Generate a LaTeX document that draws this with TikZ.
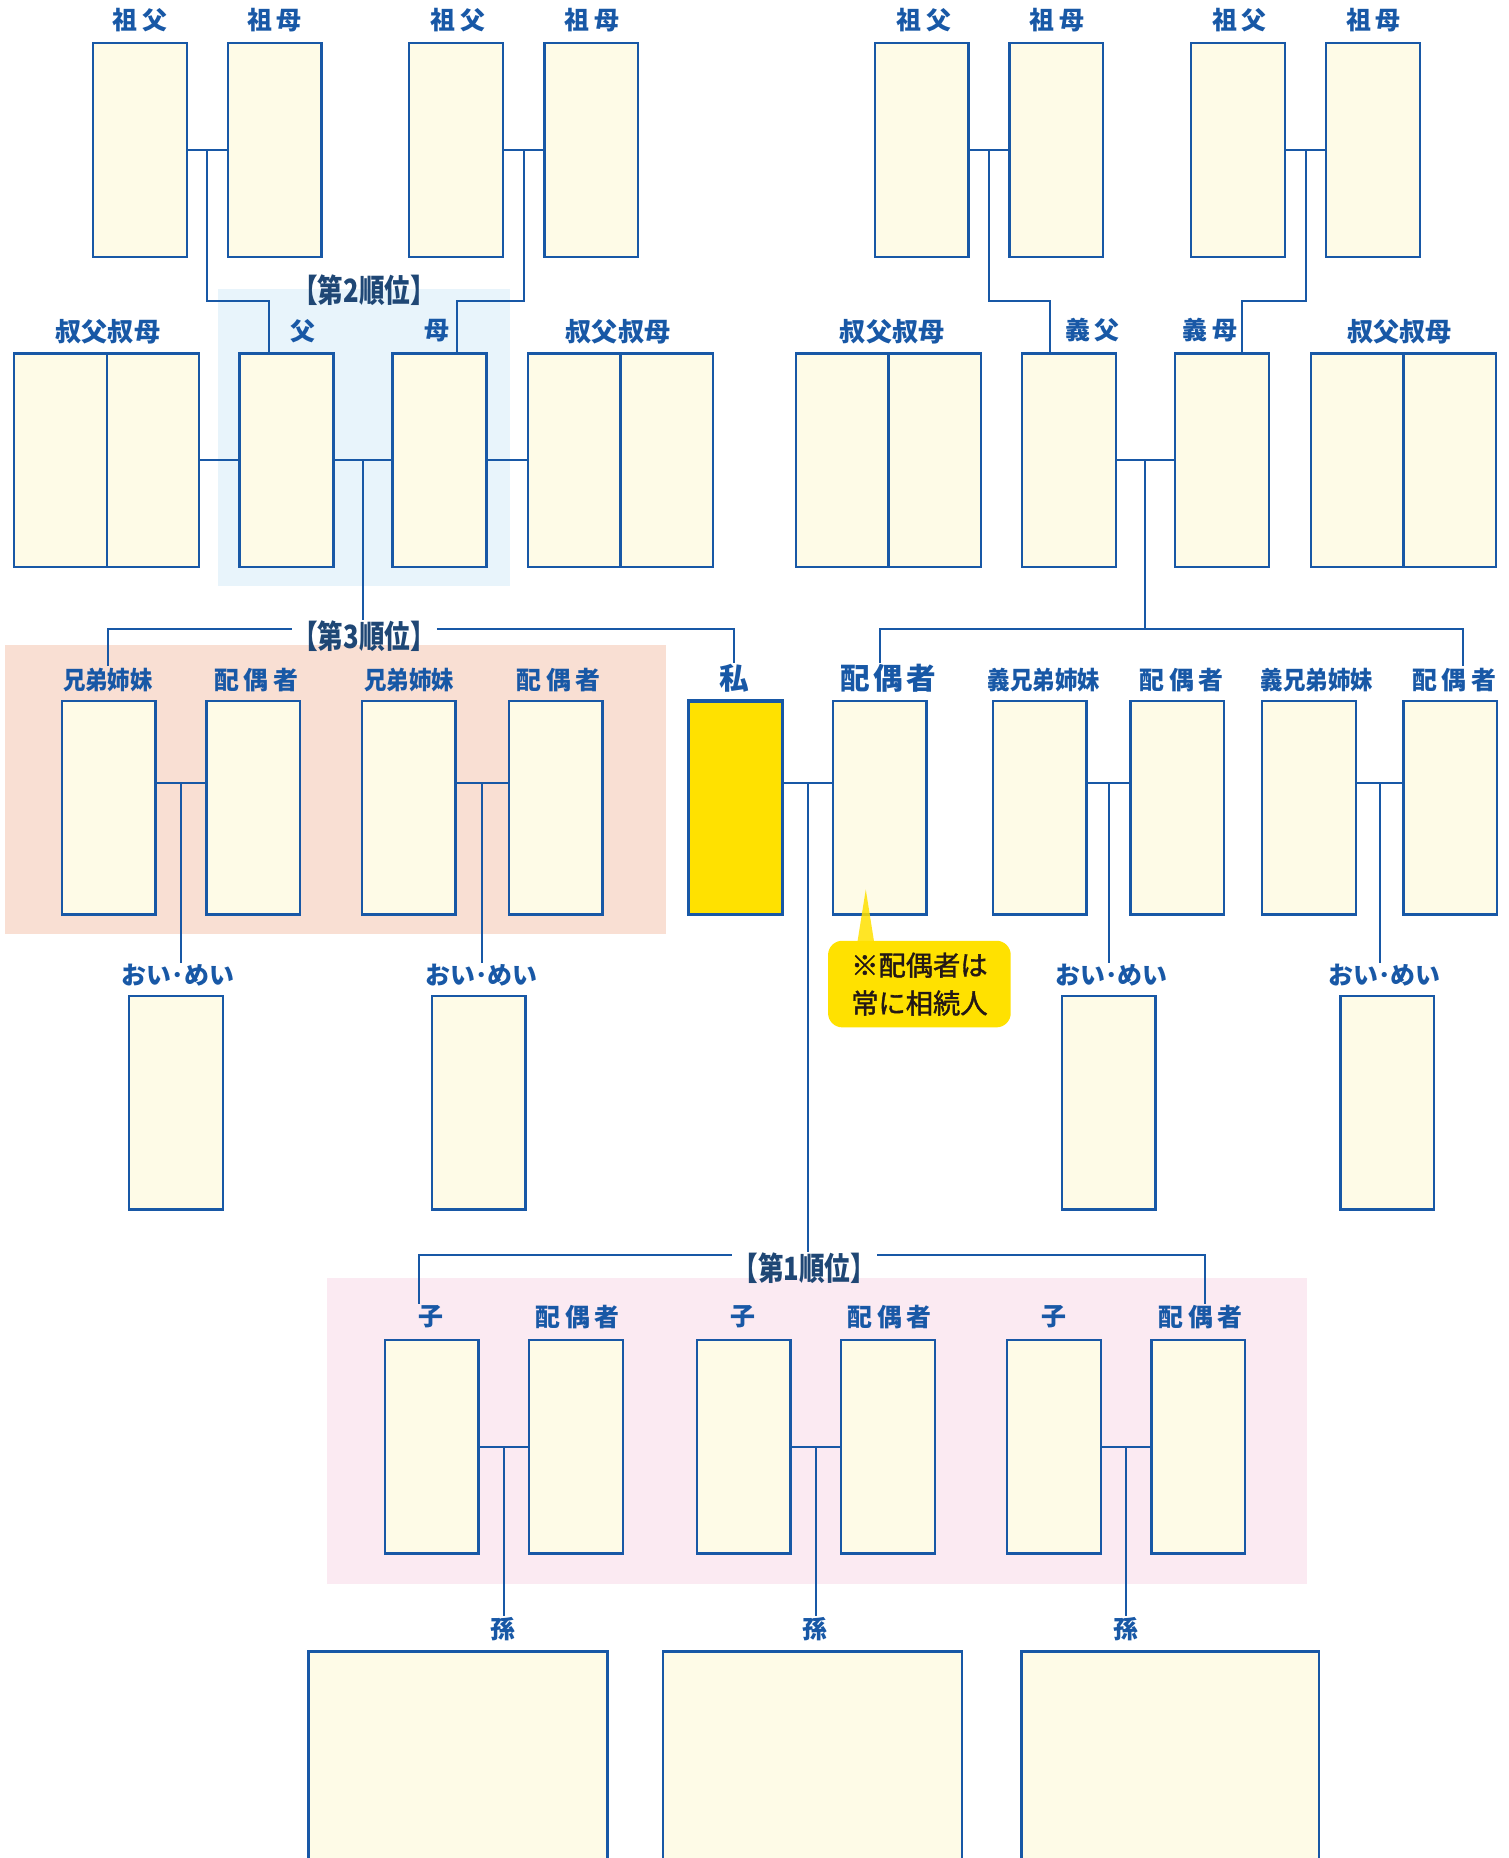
\documentclass[tikz,border=0pt]{standalone}
\usepackage{fontspec}
\setmainfont{Noto Sans CJK JP}
\newfontfamily\jl{Noto Sans CJK JP}
\newfontfamily\jw[LetterSpace=18]{Noto Sans CJK JP}
\newfontfamily\jn[FakeStretch=0.9]{Noto Sans CJK JP}
\newfontfamily\jbw[LetterSpace=12]{Noto Sans CJK JP}
\newfontfamily\jr[FakeStretch=0.8]{Noto Sans CJK JP}
\newfontfamily\jk[FakeBold=1.5]{Noto Sans CJK JP}
\usetikzlibrary{calc}
\definecolor{lb}{HTML}{1858A6}
\definecolor{cream}{HTML}{FEFBE7}
\definecolor{bgblue}{HTML}{E8F4FB}
\definecolor{bgsalmon}{HTML}{F9DFD3}
\definecolor{bgpink}{HTML}{FBEAF2}
\definecolor{ylw}{HTML}{FFE100}
\definecolor{navy}{HTML}{1F4775}
\definecolor{ink}{HTML}{231815}
\begin{document}
\begin{tikzpicture}[x=1pt,y=-1pt,
 person/.style={draw=lb,fill=cream,line width=2pt,minimum width=79pt,minimum height=180pt,inner sep=0pt},
 half/.style={person,minimum width=78pt},
 lab/.style={text=lb,font=\jl\bfseries\fontsize{21}{21}\selectfont,inner sep=1pt},
 labq/.style={text=lb,font=\jl\bfseries\fontsize{22}{22}\selectfont,inner sep=1pt},
 labw/.style={text=lb,font=\jw\bfseries\fontsize{21}{21}\selectfont,inner sep=1pt},
 labn/.style={text=lb,font=\jn\bfseries\fontsize{21}{21}\selectfont,inner sep=1pt},
 labb/.style={text=lb,font=\jbw\bfseries\fontsize{25}{25}\selectfont,inner sep=1pt},
 rank/.style={text=navy,font=\jr\bfseries\fontsize{27}{27}\selectfont,inner sep=0.5pt},
 link/.style={draw=lb,line width=1.7pt},
]
\clip (0,0) rectangle (1272,1566.2);
% backgrounds
\fill[bgblue] (184,244) rectangle (430,494);
\fill[bgsalmon] (4,544) rectangle (561,787);
\fill[bgpink] (276,1077) rectangle (1102,1335);

% row 1 grandparents
\node[person] (gf1) at (118,126.5) {};
\node[person] (gm1) at (231.5,126.5) {};
\node[person] (gf2) at (384.5,126.5) {};
\node[person] (gm2) at (498.5,126.5) {};
\node[person] (gf3) at (777,126.5) {};
\node[person] (gm3) at (890.5,126.5) {};
\node[person] (gf4) at (1043.5,126.5) {};
\node[person] (gm4) at (1157.5,126.5) {};
\node[labw] (lgf1) at (118,17) {祖父};
\node[labw] (lgm1) at (231.5,17) {祖母};
\node[labw] (lgf2) at (386,17) {祖父};
\node[labw] (lgm2) at (499,17) {祖母};
\node[labw] (lgf3) at (779,17) {祖父};
\node[labw] (lgm3) at (891,17) {祖母};
\node[labw] (lgf4) at (1045,17) {祖父};
\node[labw] (lgm4) at (1158,17) {祖母};

% row 2
\node[half] (ul1a) at (51,388) {};
\node[half] (ul1b) at (129,388) {};
\node[person] (fa) at (241.5,388) {};
\node[person] (mo) at (370.5,388) {};
\node[half] (ur1a) at (484,388) {};
\node[half] (ur1b) at (562,388) {};
\node[half] (ul2a) at (710,388) {};
\node[half] (ul2b) at (788,388) {};
\node[person] (ifa) at (901,388) {};
\node[person] (imo) at (1030,388) {};
\node[half] (ur2a) at (1144,388) {};
\node[half] (ur2b) at (1222,388) {};
\node[labq] (lul1) at (91,280) {叔父叔母};
\node[labq] (lur1) at (521,280) {叔父叔母};
\node[labq] (lul2) at (752,280) {叔父叔母};
\node[labq] (lur2) at (1180,280) {叔父叔母};
\node[lab] (lfa) at (255,279) {父};
\node[lab] (lmo) at (368,279) {母};
\node[labw] (lifa) at (921,278) {義父};
\node[labw] (limo) at (1020,278) {義母};
\node[rank] (r2) at (307,245) {【第2順位】};

% row 3
\node[person] (sb1) at (91.5,681) {};
\node[person] (ss1) at (213.5,681) {};
\node[person] (sb2) at (344.5,681) {};
\node[person] (ss2) at (468.5,681) {};
\node[person,fill=ylw,line width=3pt] (me) at (620,681) {};
\node[person] (sp) at (741.5,681) {};
\node[person] (isb1) at (876.5,681) {};
\node[person] (iss1) at (992.5,681) {};
\node[person] (isb2) at (1103.5,681) {};
\node[person] (iss2) at (1222.5,681) {};
\node[labn] (lsb1) at (91,573) {兄弟姉妹};
\node[labw] (lss1) at (216,573) {配偶者};
\node[labn] (lsb2) at (345,573) {兄弟姉妹};
\node[labw] (lss2) at (471,573) {配偶者};
\node[labb] (lme) at (619,572) {私};
\node[labb] (lsp) at (749,572) {配偶者};
\node[labn] (lisb1) at (880,573) {義兄弟姉妹};
\node[labw] (liss1) at (996,573) {配偶者};
\node[labn] (lisb2) at (1110,573) {義兄弟姉妹};
\node[labw] (liss2) at (1226,573) {配偶者};
\node[rank] (r3) at (307,536) {【第3順位】};

% nephews
\node[person] (nn1) at (148.5,929.5) {};
\node[person] (nn2) at (403.5,929.5) {};
\node[person] (nn3) at (934.5,929.5) {};
\node[person] (nn4) at (1169.5,929.5) {};
\node[lab] (lnn1) at (150,822) {おい･めい};
\node[lab] (lnn2) at (406,822) {おい･めい};
\node[lab] (lnn3) at (937,822) {おい･めい};
\node[lab] (lnn4) at (1167,822) {おい･めい};

% row 4 children
\node[person] (c1) at (364,1219.5) {};
\node[person] (cs1) at (485.5,1219.5) {};
\node[person] (c2) at (627,1219.5) {};
\node[person] (cs2) at (748.5,1219.5) {};
\node[person] (c3) at (888.5,1219.5) {};
\node[person] (cs3) at (1010,1219.5) {};
\node[lab] (lc1) at (363,1110) {子};
\node[labw] (lcs1) at (487,1110) {配偶者};
\node[lab] (lc2) at (626,1110) {子};
\node[labw] (lcs2) at (750,1110) {配偶者};
\node[lab] (lc3) at (888,1110) {子};
\node[labw] (lcs3) at (1012,1110) {配偶者};
\node[rank] (r1) at (678,1069) {【第1順位】};

% row 5 grandchildren
\node[person,minimum width=252pt,minimum height=220pt] (g1) at (386,1502) {};
\node[person,minimum width=252pt,minimum height=220pt] (g2) at (685,1502) {};
\node[person,minimum width=251pt,minimum height=220pt] (g3) at (986.5,1502) {};
\node[lab] (lg1) at (424,1373) {孫};
\node[lab] (lg2) at (687,1373) {孫};
\node[lab] (lg3) at (949,1373) {孫};

% coordinates for horizontal levels
\coordinate (h2) at (0,254);
\coordinate (h3) at (0,530);
\coordinate (h3b) at (0,660);
\coordinate (h1) at (0,1058);

% grandparents connectors
\draw[link] (gf1.east) -- (gm1.west);
\draw[link] (gf2.east) -- (gm2.west);
\draw[link] (gf3.east) -- (gm3.west);
\draw[link] (gf4.east) -- (gm4.west);
\coordinate (g1m) at ($(gf1.east)!.5!(gm1.west)$);
\coordinate (g2m) at ($(gf2.east)!.5!(gm2.west)$);
\coordinate (g3m) at ($(gf3.east)!.5!(gm3.west)$);
\coordinate (g4m) at ($(gf4.east)!.5!(gm4.west)$);
\coordinate (fain) at ($(fa.north)+(-15,0)$);
\coordinate (moin) at ($(mo.north)+(15,0)$);
\coordinate (ifain) at ($(ifa.north)+(-16,0)$);
\coordinate (imoin) at ($(imo.north)+(17,0)$);
\draw[link] (g1m) |- (h2 -| fain) -- (fain);
\draw[link] (g2m) |- (h2 -| moin) -- (moin);
\draw[link] (g3m) |- (h2 -| ifain) -- (ifain);
\draw[link] (g4m) |- (h2 -| imoin) -- (imoin);

% parents connectors
\draw[link] (ul1b.east) -- (fa.west);
\draw[link] (fa.east) -- (mo.west);
\draw[link] (mo.east) -- (ur1a.west);
\draw[link] (ifa.east) -- (imo.west);
\coordinate (fm) at ($(fa.east)!.5!(mo.west)$);
\coordinate (im) at ($(ifa.east)!.5!(imo.west)$);
\draw[link] (fm) -- (r3.north -| fm);
\draw[link] (r3.west |- h3) -| (lsb1.north);
\draw[link] (r3.east |- h3) -| (lme.north);
\draw[link] (im) -- (h3 -| im);
\coordinate (rr) at ($(iss2.north)+(11,0)$);
\draw[link] (lsp.north -| sp) |- (h3 -| rr) -- (liss2.north -| rr);

% row 3 couples
\draw[link] (sb1.east |- h3b) -- (ss1.west |- h3b);
\draw[link] (sb2.east |- h3b) -- (ss2.west |- h3b);
\draw[link] (me.east |- h3b) -- (sp.west |- h3b);
\draw[link] (isb1.east |- h3b) -- (iss1.west |- h3b);
\draw[link] (isb2.east |- h3b) -- (iss2.west |- h3b);
\coordinate (m1) at ($(sb1.east |- h3b)!.5!(ss1.west |- h3b)$);
\coordinate (m2) at ($(sb2.east |- h3b)!.5!(ss2.west |- h3b)$);
\coordinate (mm) at ($(me.east |- h3b)!.5!(sp.west |- h3b)$);
\coordinate (m3) at ($(isb1.east |- h3b)!.5!(iss1.west |- h3b)$);
\coordinate (m4) at ($(isb2.east |- h3b)!.5!(iss2.west |- h3b)$);
\draw[link] (m1) -- (lnn1.north -| m1);
\draw[link] (m2) -- (lnn2.north -| m2);
\draw[link] (m3) -- (lnn3.north -| m3);
\draw[link] (m4) -- (lnn4.north -| m4);
\draw[link] (mm) -- (r1.north -| mm);

% rank 1 line
\coordinate (c1l) at ($(c1.north)+(-11,0)$);
\coordinate (cs3r) at ($(cs3.north)+(6,0)$);
\draw[link] (r1.west |- h1) -| (lc1.north -| c1l);
\draw[link] (r1.east |- h1) -| (lcs3.north -| cs3r);

% children couples
\draw[link] (c1.east) -- (cs1.west);
\draw[link] (c2.east) -- (cs2.west);
\draw[link] (c3.east) -- (cs3.west);
\coordinate (k1) at ($(c1.east)!.5!(cs1.west)$);
\coordinate (k2) at ($(c2.east)!.5!(cs2.west)$);
\coordinate (k3) at ($(c3.east)!.5!(cs3.west)$);
\draw[link] (k1) -- (lg1.north -| k1);
\draw[link] (k2) -- (lg2.north -| k2);
\draw[link] (k3) -- (lg3.north -| k3);

% callout
\node[fill=ylw,rounded corners=12pt,minimum width=154pt,minimum height=73pt,inner sep=0pt,
  text=ink,font=\jk\fontsize{23}{32}\selectfont,align=center] (note) at (775,829.5) {※配偶者は\\常に相続人};
\fill[ylw,opacity=.85] ($(note.north west)+(25,1)$) -- ($(note.north west)+(32,-43)$) -- ($(note.north west)+(39,1)$) -- cycle;
\end{tikzpicture}
\end{document}
